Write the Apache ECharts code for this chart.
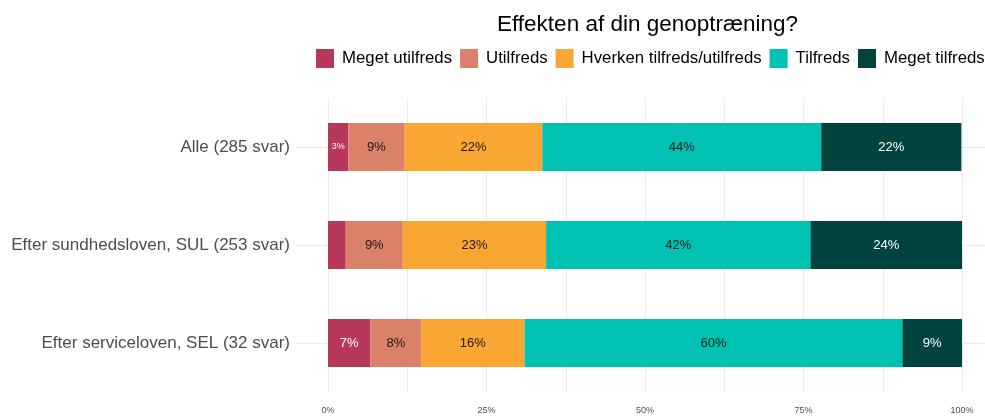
<!DOCTYPE html>
<html><head><meta charset="utf-8">
<script src="https://cdn.jsdelivr.net/npm/echarts@6/dist/echarts.min.js"></script>
<style>html,body{margin:0;padding:0;background:#fff}#c{width:985px;height:416px}</style>
</head><body><div id="c"></div>
<script>
const categories = ['Alle (285 svar)', 'Efter sundhedsloven, SUL (253 svar)', 'Efter serviceloven, SEL (32 svar)'];
const seriesNames = ['Meget utilfreds', 'Utilfreds', 'Hverken tilfreds/utilfreds', 'Tilfreds', 'Meget tilfreds'];
const megetUtilfreds = [3.2, 2.8, 6.7];
const utilfreds = [8.9, 9.0, 8.0];
const hverken = [21.7, 22.6, 16.3];
const tilfreds = [44.0, 41.7, 59.6];
const megetTilfreds = [22.1, 24.0, 9.4];
const xTicks = [0, 25, 50, 75, 100];
const titleText = 'Effekten af din genoptræning?';

const colors = ['#B7385B', '#DB8169', '#F9A633', '#00C2B2', '#00443D'];
const labelColors = ['#ffffff', '#1a1a1a', '#1a1a1a', '#1a1a1a', '#ffffff'];
const values = [megetUtilfreds, utilfreds, hverken, tilfreds, megetTilfreds];
const FONT = '"Liberation Sans", Arial, sans-serif';

const chart = echarts.init(document.getElementById('c'));
const barSeries = seriesNames.map((name, i) => ({
  name, type: 'bar', stack: 'total', xAxisIndex: 0, yAxisIndex: 0,
  barWidth: 48,
  itemStyle: { color: colors[i] },
  data: values[i].map(v => ({
    value: v,
    label: {
      show: v >= 3,
      position: 'inside',
      color: labelColors[i],
      fontFamily: FONT,
      fontSize: v < 5 ? 9 : 13,
      formatter: p => Math.round(p.value) + '%'
    }
  }))
}));

chart.setOption({
  animation: false,
  backgroundColor: '#ffffff',
  title: {
    text: titleText, left: 492, top: 8,
    textStyle: { fontFamily: FONT, fontSize: 22.5, fontWeight: 'normal', color: '#000' }
  },
  legend: {
    data: seriesNames, left: 311, top: 44, width: 1200,
    itemWidth: 18, itemHeight: 19, itemGap: 8,
    icon: 'rect',
    textStyle: { fontFamily: FONT, fontSize: 16.8, color: '#000', padding: [0, 0, 0, 3] }
  },
  grid: [
    { left: 328, right: 23, top: 98, height: 294, containLabel: false },
    { left: 296, right: 0, top: 98, height: 294, containLabel: false }
  ],
  xAxis: [
    {
      type: 'value', gridIndex: 0, min: 0, max: 100, interval: 12.5,
      axisLine: { show: false }, axisTick: { show: false },
      splitLine: { show: true, lineStyle: { color: '#ebebeb', width: 1 } },
      axisLabel: {
        fontFamily: FONT, fontSize: 9, color: '#4d4d4d', margin: 14,
        formatter: v => xTicks.includes(v) ? v + '%' : ''
      }
    },
    { type: 'value', gridIndex: 1, min: 0, max: 1, show: false }
  ],
  yAxis: [
    {
      type: 'category', gridIndex: 0, data: categories, inverse: true,
      axisLine: { show: false }, axisTick: { show: false },
      splitLine: { show: false },
      axisLabel: { fontFamily: FONT, fontSize: 17, color: '#4d4d4d', margin: 38 }
    },
    {
      type: 'value', gridIndex: 1, min: 0, max: 6, interval: 1,
      axisLine: { show: false }, axisTick: { show: false }, axisLabel: { show: false },
      splitLine: { show: true, lineStyle: { color: ['rgba(0,0,0,0)', '#ebebeb'], width: 1 } }
    }
  ],
  series: [
    { type: 'line', xAxisIndex: 1, yAxisIndex: 1, data: [], silent: true },
    ...barSeries
  ]
});
</script></body></html>
